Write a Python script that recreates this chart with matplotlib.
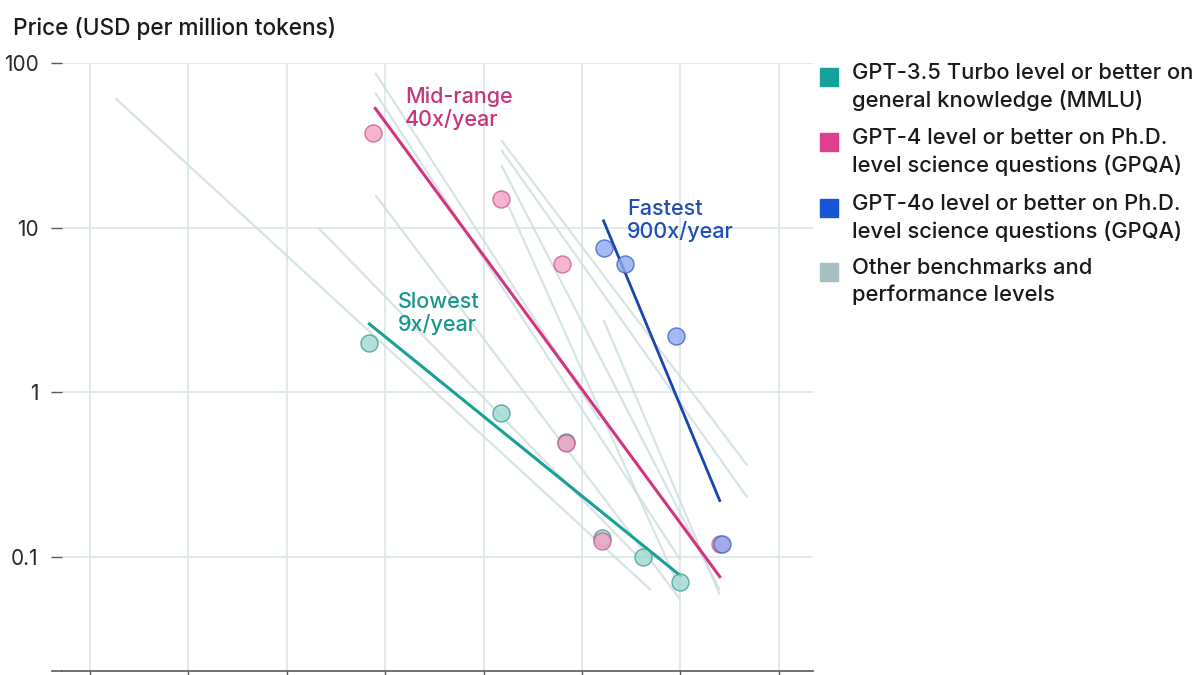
import numpy as np
import matplotlib
matplotlib.use('Agg')
import matplotlib.pyplot as plt
from matplotlib.patches import Rectangle
from matplotlib.lines import Line2D

plt.rcParams['font.family'] = ['Inter', 'DejaVu Sans']

# Observed prices (decimal year, USD per million tokens)
teal_x = [2022.42, 2023.09, 2023.42, 2023.60, 2023.81, 2024.00]
teal_y = [2.0, 0.75, 0.5, 0.13, 0.10, 0.07]
pink_x = [2022.44, 2023.09, 2023.40, 2023.42, 2023.60, 2024.20]
pink_y = [37.5, 15.0, 6.0, 0.49, 0.125, 0.12]
blue_x = [2023.61, 2023.72, 2023.98, 2024.21]
blue_y = [7.5, 6.0, 2.2, 0.12]

# Fitted trends: (x0, x1), (y0, y1)
teal_fit = ([2022.42, 2024.00], [2.6, 0.077])
pink_fit = ([2022.45, 2024.20], [53.0, 0.076])
blue_fit = ([2023.61, 2024.20], [11.0, 0.22])

# Other benchmarks and performance levels
other_x0 = [2021.13, 2022.16, 2022.45, 2022.45, 2022.45, 2023.09, 2023.09, 2023.09, 2023.09, 2023.61]
other_y0 = [61.0, 10.0, 15.8, 87.0, 65.8, 34.0, 29.6, 24.0, 16.9, 2.75]
other_x1 = [2023.85, 2023.80, 2024.00, 2023.59, 2024.00, 2024.34, 2024.34, 2024.20, 2024.00, 2024.20]
other_y1 = [0.063, 0.096, 0.055, 0.68, 0.096, 0.36, 0.23, 0.063, 0.063, 0.059]

y_ticks = [0.1, 1, 10, 100]
y_labels = ['0.1', '1', '10', '100']

legend_labels = [
    'GPT-3.5 Turbo level or better on\ngeneral knowledge (MMLU)',
    'GPT-4 level or better on Ph.D.\nlevel science questions (GPQA)',
    'GPT-4o level or better on Ph.D.\nlevel science questions (GPQA)',
    'Other benchmarks and\nperformance levels',
]
legend_colors = ['#13a39a', '#df3f8e', '#1555d6', '#a5bfc3']

fig = plt.figure(figsize=(12, 6.75), dpi=100)
ax = fig.add_axes([62 / 1200, 4 / 675, 751 / 1200, 608 / 675])

ax.set_yscale('log')
ax.set_ylim(0.0203, 100)
ax.set_xlim(2020.858, 2024.674)

# grid
ax.set_xticks(np.arange(2021.0, 2024.6, 0.5))
ax.set_xticklabels([])
ax.set_yticks(y_ticks)
ax.set_yticklabels(y_labels)
ax.yaxis.set_minor_locator(matplotlib.ticker.NullLocator())
ax.grid(True, color='#dde8ea', linewidth=1.3)
ax.set_axisbelow(True)
for s in ['top', 'right', 'left']:
    ax.spines[s].set_visible(False)
ax.spines['bottom'].set_color('#555a5c')
ax.spines['bottom'].set_linewidth(1.2)
ax.tick_params(axis='y', length=8, width=1.0, color='#555a5c', pad=9,
               labelsize=15, labelcolor='#2a2a2a')
ax.tick_params(axis='x', length=8, width=1.0, color='#555a5c')
fig.add_artist(Line2D([52 / 1200, 62 / 1200], [4 / 675, 4 / 675],
                      color='#555a5c', linewidth=1.2))

# other trend lines
for x0, y0, x1, y1 in zip(other_x0, other_y0, other_x1, other_y1):
    ax.plot([x0, x1], [y0, y1], color='#cfe0e0', linewidth=1.6, alpha=0.85,
            solid_capstyle='butt', zorder=2)

# highlighted trends
ax.plot(*teal_fit, color='#16a096', linewidth=2.2, zorder=3)
ax.plot(*pink_fit, color='#d4347f', linewidth=2.2, zorder=3)
ax.plot(*blue_fit, color='#1846ad', linewidth=2.0, zorder=3)

ax.scatter(teal_x, teal_y, s=150, color='#9fd8d0', edgecolor='#3a9e96',
           linewidth=1.0, alpha=0.8, zorder=4)
ax.scatter(pink_x, pink_y, s=150, color='#f3a2c4', edgecolor='#c45a8e',
           linewidth=1.0, alpha=0.8, zorder=4)
ax.scatter(blue_x, blue_y, s=150, color='#8ea9ef', edgecolor='#3e5fbf',
           linewidth=1.0, alpha=0.8, zorder=4)

ax.text(2022.60, 53, 'Mid-range\n40x/year', color='#c7357c', fontsize=15.5,
        va='center', ha='left', linespacing=1.1, fontweight='medium')
ax.text(2023.73, 11.1, 'Fastest\n900x/year', color='#1f4fb0', fontsize=15.5,
        va='center', ha='left', linespacing=1.1, fontweight='medium')
ax.text(2022.565, 3.0, 'Slowest\n9x/year', color='#17978d', fontsize=15.5,
        va='center', ha='left', linespacing=1.1, fontweight='medium')

fig.text(13 / 1200, 1 - 28 / 675, 'Price (USD per million tokens)',
         fontsize=16.3, color='#1a1a1a', va='center', ha='left', fontweight='medium')

# legend
line_tops = [77, 142, 208, 272]
for top, lab, col in zip(line_tops, legend_labels, legend_colors):
    fig.add_artist(Rectangle((820 / 1200, 1 - (top + 9) / 675), 18 / 1200, 18 / 675,
                             color=col, transform=fig.transFigure))
    fig.text(852 / 1200, 1 - (top - 14) / 675, lab, fontsize=15.8, color='#1a1a1a',
             va='top', ha='left', linespacing=1.42, fontweight='medium')

fig.savefig('out.png', dpi=100)
